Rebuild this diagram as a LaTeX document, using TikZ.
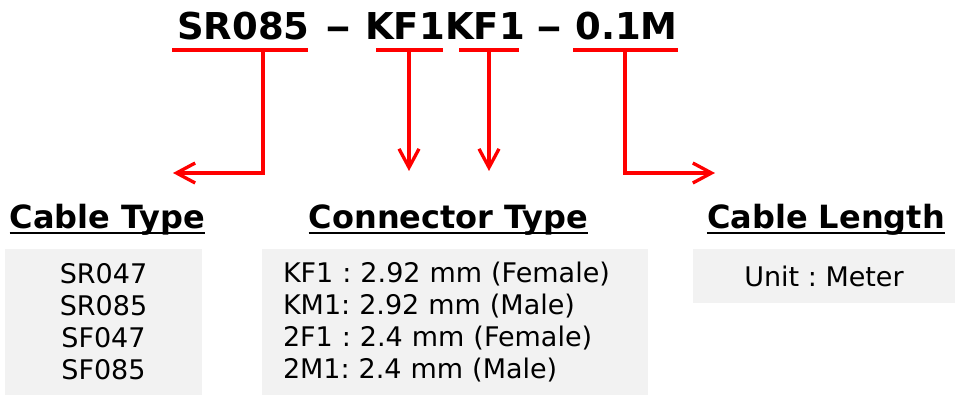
\documentclass[tikz,border=0pt]{standalone}
\usepackage{fontspec}
\setmainfont{DejaVu Sans}
\usetikzlibrary{positioning,arrows.meta}
\definecolor{boxgray}{HTML}{F2F2F2}
\frenchspacing

\begin{document}
\begin{tikzpicture}[x=0.75pt, y=-0.75pt,
	ttl/.style={font=\fontsize{27.75}{30}\selectfont\bfseries, inner sep=0pt, anchor=base west},
	hd/.style={font=\fontsize{24}{26}\selectfont\bfseries, inner sep=0pt, anchor=base},
	bx/.style={fill=boxgray, font=\fontsize{20.25}{24}\selectfont, inner sep=0pt, minimum height=109.5pt},
	ul/.style={red, line width=2.5pt},
	arr/.style={red, line width=2.5pt, -{Straight Barb[length=14pt, width=15pt]}}]
	\useasboundingbox (0,0) rectangle (957,397);

	% part number
	\node[ttl] (cab) at (177,39) {SR085};
	\node[ttl] (d1) at (325,39) {\scalebox{1.4}[1]{–}};
	\node[ttl] (cona) at (365,39) {KF1};
	\node[ttl] (conb) at (445,39) {KF1};
	\node[ttl] (d2) at (536,39) {\scalebox{1.4}[1]{–}};
	\node[ttl] (len) at (575,39) {0.1M};

	\draw[ul] (172,50) -- (308,50);
	\draw[ul] (376,50) -- (443,50);
	\draw[ul] (459,50) -- (519,50);
	\draw[ul] (573,50) -- (678,50);

	\coordinate (s1) at (263,50);
	\coordinate (s2) at (409,50);
	\coordinate (s3) at (489,50);
	\coordinate (s4) at (625,50);
	\coordinate (e1) at (173,173);
	\coordinate (e2) at (409,171);
	\coordinate (e3) at (489,171);
	\coordinate (e4) at (715,173);

	\draw[arr] (s1) |- (e1);
	\draw[arr] (s2) -- (e2);
	\draw[arr] (s3) -- (e3);
	\draw[arr] (s4) |- (e4);

	% headings
	\node[hd] (h1) at (107.5,228) {Cable Type};
	\node[hd] (h2) at (448.5,228) {Connector Type};
	\node[hd] (h3) at (826,228) {Cable Length};
	\foreach \h in {h1,h2,h3}
		\draw[line width=1.5pt] ([yshift=-3.75pt]\h.base west) -- ([yshift=-3.75pt]\h.base east);

	% boxes
	\node[bx, minimum width=147.75pt, align=center] (b1) at (103.5,322) {SR047\\SR085\\SF047\\SF085};
	\node[bx, minimum width=289.5pt, text width=258pt, align=left] (b2) at (455,322)
		{KF1 : 2.92 mm (Female)\\KM1: 2.92 mm (Male)\\2F1 : 2.4 mm (Female)\\2M1: 2.4 mm (Male)};
	\node[bx, minimum width=196.5pt, minimum height=40.5pt] (b3) at (824,276) {Unit : Meter};
\end{tikzpicture}
\end{document}
